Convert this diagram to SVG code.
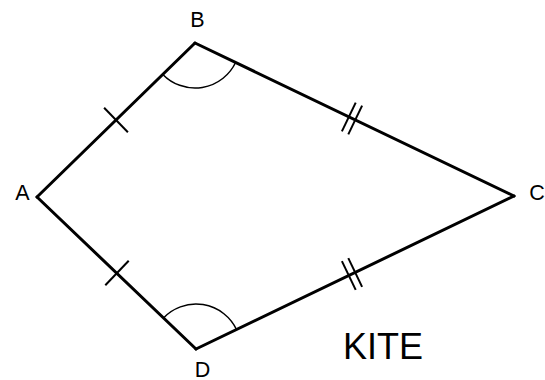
<svg xmlns="http://www.w3.org/2000/svg" width="545" height="380" viewBox="0 0 545 380">
<style>
.edge{stroke:#000;stroke-width:3;fill:none;stroke-linecap:round;stroke-linejoin:round}
.tick{stroke:#000;stroke-width:2;fill:none}
.arc{stroke:#000;stroke-width:1.5;fill:none}
.lbl{font-family:"Liberation Sans",Arial,sans-serif;font-size:21.5px;fill:#000;text-anchor:middle}
.title{font-family:"Liberation Sans",Arial,sans-serif;font-size:36px;fill:#000}
</style>
<rect width="545" height="380" fill="#fff"/>
<g id="connectors">
<line class="edge" x1="37" y1="197" x2="195" y2="43"/>
<line class="edge" x1="195" y1="43" x2="514" y2="196"/>
<line class="edge" x1="514" y1="196" x2="196" y2="349"/>
<line class="edge" x1="196" y1="349" x2="37" y2="197"/>
<line class="tick" x1="104.1" y1="107.8" x2="127.9" y2="132.2"/>
<line class="tick" x1="105.3" y1="285.3" x2="128.7" y2="260.7"/>
<line class="tick" x1="355.7" y1="102.6" x2="341.9" y2="131.4"/>
<line class="tick" x1="362.1" y1="105.6" x2="348.3" y2="134.4"/>
<line class="tick" x1="341.9" y1="261.1" x2="355.7" y2="289.9"/>
<line class="tick" x1="348.3" y1="258.1" x2="362.1" y2="286.9"/>
<path class="arc" d="M162.8,74.4 A45,45 0 0 0 235.6,62.5"/>
<path class="arc" d="M163.5,317.9 A45,45 0 0 1 236.5,329.5"/>
</g>
<g id="node-A"><text class="lbl" x="22.5" y="200">A</text></g>
<g id="node-B"><text class="lbl" x="197.5" y="27">B</text></g>
<g id="node-C"><text class="lbl" x="537" y="200">C</text></g>
<g id="node-D"><text class="lbl" x="202.5" y="377">D</text></g>
<g id="title"><text class="title" x="343" y="359">KITE</text></g>
</svg>
